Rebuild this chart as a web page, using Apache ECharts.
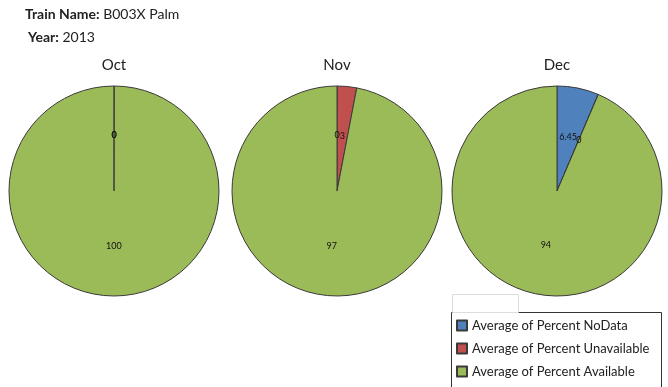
<!DOCTYPE html>
<html>
<head>
<meta charset="utf-8">
<script src="https://cdn.jsdelivr.net/npm/echarts@6/dist/echarts.min.js"></script>
<style>
html, body { margin: 0; padding: 0; background: #fff; }
#chart { width: 668px; height: 387px; }
</style>
</head>
<body>
<div id="chart"></div>
<script>
var trainName = 'B003X Palm';
var year = '2013';
var months = ['Oct', 'Nov', 'Dec'];
var seriesNames = ['Average of Percent NoData', 'Average of Percent Unavailable', 'Average of Percent Available'];
var noData = [0, 0, 6.45];
var unavailable = [0, 3, 0];
var available = [100, 97, 94];

var colors = ['#4F81BD', '#C0504D', '#9BBB59'];
var centersX = [114, 337, 557];

var chart = echarts.init(document.getElementById('chart'));

var headStyle = {
    fontFamily: 'Lato', fontSize: 14, fontWeight: 'normal', color: '#222',
    rich: { b: { fontFamily: 'Lato', fontSize: 14, fontWeight: 'bold', color: '#222' } }
};
var titles = [
    { left: 25, top: 7, padding: 0, text: '{b|Train Name:} ' + trainName, textStyle: headStyle },
    { left: 28, top: 30, padding: 0, text: '{b|Year:} ' + year, textStyle: headStyle }
];

var series = [];
months.forEach(function (m, i) {
    titles.push({
        text: m,
        left: centersX[i], top: 58, padding: 0,
        textAlign: 'center',
        textStyle: { fontFamily: 'Lato', fontSize: 15, fontWeight: 'normal', color: '#222' }
    });
    var vals = [noData[i], unavailable[i], available[i]];
    series.push({
        type: 'pie',
        name: m,
        center: [centersX[i], 191],
        radius: 105,
        startAngle: 90,
        clockwise: true,
        minAngle: 0.05,
        avoidLabelOverlap: false,
        animation: false,
        itemStyle: { borderColor: '#3a3a3a', borderWidth: 1 },
        label: {
            show: true, position: 'inside',
            fontFamily: 'Lato', fontSize: 9, color: '#111',
            formatter: function (p) { return p.value; }
        },
        labelLayout: { hideOverlap: false },
        labelLine: { show: false },
        emphasis: { disabled: true },
        data: vals.map(function (v, k) {
            return { name: seriesNames[k], value: v, itemStyle: { color: colors[k] } };
        })
    });
});

chart.setOption({
    backgroundColor: '#fff',
    title: titles,
    legend: {
        orient: 'vertical',
        left: 456, top: 319,
        padding: 0,
        itemWidth: 10, itemHeight: 10,
        itemGap: 10,
        icon: 'rect',
        data: seriesNames,
        textStyle: { fontFamily: 'Lato', fontSize: 13, color: '#222' },
        selectedMode: false
    },
    graphic: [{
        type: 'rect',
        shape: { x: 451.5, y: 312.5, width: 210, height: 90 },
        style: { fill: 'none', stroke: '#333', lineWidth: 1 }
    }, {
        type: 'rect',
        shape: { x: 452.5, y: 294.5, width: 66, height: 18 },
        style: { fill: 'none', stroke: '#ddd', lineWidth: 1 }
    }],
    series: series
});
</script>
</body>
</html>
